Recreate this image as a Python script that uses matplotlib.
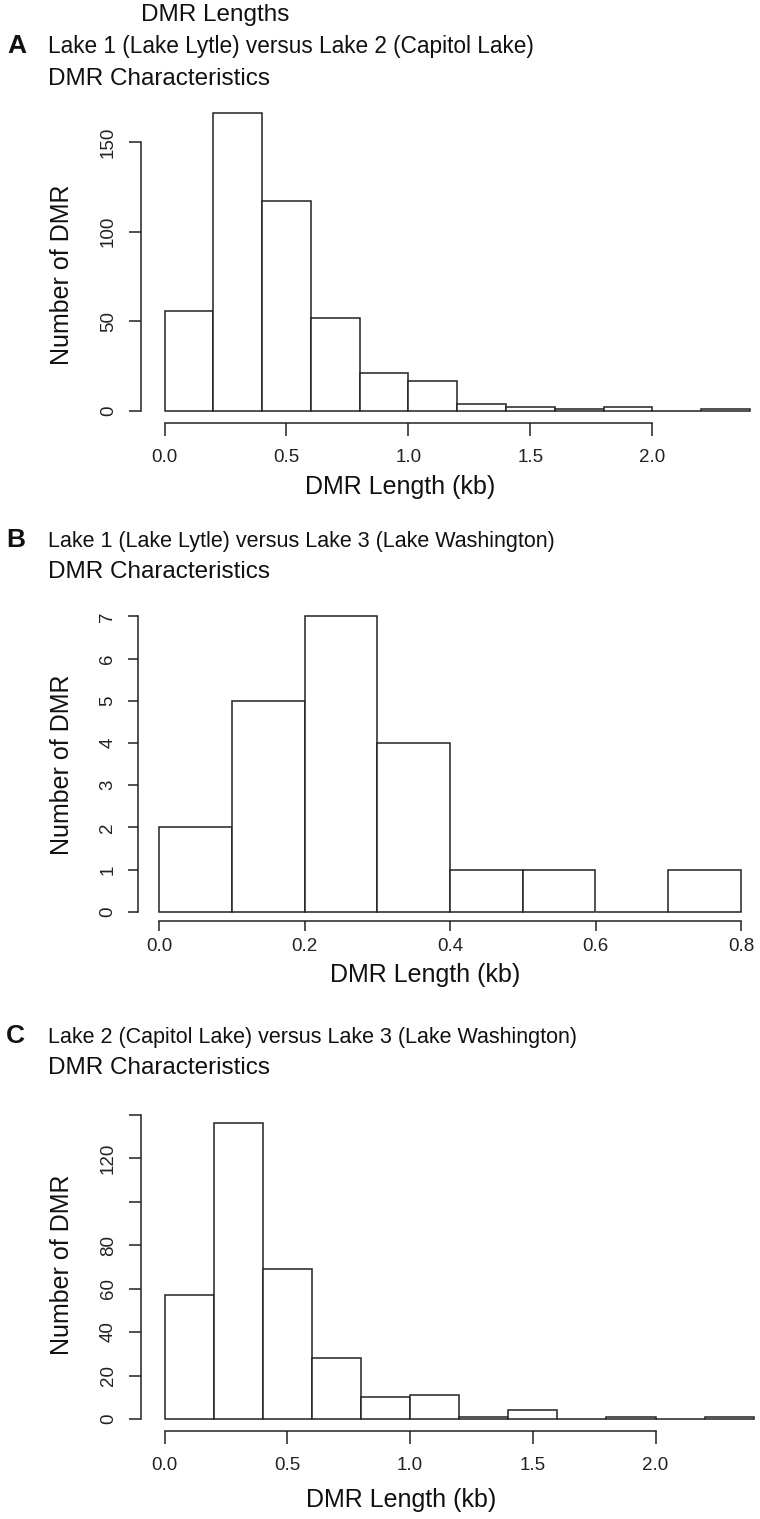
import matplotlib
matplotlib.use("Agg")
import matplotlib.pyplot as plt
import numpy as np

plt.rcParams['font.family'] = ['Liberation Sans', 'DejaVu Sans']

# bin edges (kb) and counts per bin
edges_a = np.round(np.arange(0, 2.41, 0.2), 2)
counts_a = [56, 166, 117, 52, 21, 17, 4, 2, 1, 2, 0, 1]

edges_b = np.round(np.arange(0, 0.81, 0.1), 2)
counts_b = [2, 5, 7, 4, 1, 1, 0, 1]

edges_c = np.round(np.arange(0, 2.41, 0.2), 2)
counts_c = [57, 136, 69, 28, 10, 11, 1, 4, 0, 1, 0, 1]

xticks_a = [0.0, 0.5, 1.0, 1.5, 2.0]
yticks_a = [0, 50, 100, 150]
xticks_b = [0.0, 0.2, 0.4, 0.6, 0.8]
yticks_b = [0, 1, 2, 3, 4, 5, 6, 7]
xticks_c = [0.0, 0.5, 1.0, 1.5, 2.0]
yticks_c = [0, 20, 40, 60, 80, 100, 120, 140]
ylabels_c = ['0', '20', '40', '60', '80', '', '120', '']

W, H = 760, 1519
fig = plt.figure(figsize=(W / 100, H / 100), dpi=100)
INK = '#222222'


def hist_panel(box, x0, xs, y0, ys, edges, counts, xt, yt, ytl=None,
               tlen=9, xpad=10):
    # box: (left spine px, right px, top px, bottom spine px)
    l, r, t, b = box
    ax = fig.add_axes([l / W, 1 - b / H, (r - l) / W, (b - t) / H])
    ax.set_xlim((l - x0) / xs, (r - x0) / xs)
    ax.set_ylim(-(b - y0) / ys, (y0 - t) / ys)
    ax.bar(edges[:-1], counts, width=np.diff(edges), align='edge',
           facecolor='white', edgecolor=INK, linewidth=1.1)
    for s in ['top', 'right']:
        ax.spines[s].set_visible(False)
    ax.spines['left'].set_bounds(yt[0], yt[-1])
    ax.spines['bottom'].set_bounds(xt[0], xt[-1])
    for s in ['left', 'bottom']:
        ax.spines[s].set_linewidth(1.1)
        ax.spines[s].set_color(INK)
    ax.set_xticks(xt)
    ax.set_xticklabels(['%.1f' % v for v in xt])
    ax.set_yticks(yt)
    ax.set_yticklabels(ytl if ytl else [str(v) for v in yt], rotation=90, va='center')
    ax.tick_params(length=tlen, width=1.1, color=INK, labelsize=13.5, labelcolor=INK)
    ax.tick_params(axis='x', pad=xpad)
    ax.tick_params(axis='y', pad=8)
    ax.patch.set_alpha(0)
    return ax


hist_panel((140.7, 760, 95, 422.7), 164.5, 243.9, 411, 1.793,
           edges_a, counts_a, xticks_a, yticks_a)
hist_panel((137.7, 760, 600, 921), 159.3, 727, 911.7, 42.2,
           edges_b, counts_b, xticks_b, yticks_b, tlen=7.5, xpad=5)
hist_panel((140.7, 760, 1095, 1431), 164.5, 245.5, 1419, 2.175,
           edges_c, counts_c, xticks_c, yticks_c, ylabels_c)


def ftext(x, y, s, **kw):
    fig.text(x / W, 1 - y / H, s, color='#111111', va='center', **kw)


ftext(215, 15, 'DMR Lengths', fontsize=17.5, ha='center')
ftext(7, 46, 'A', fontsize=19, fontweight='bold', ha='left')
ftext(48, 46, 'Lake 1 (Lake Lytle) versus Lake 2 (Capitol Lake)', fontsize=16.3, ha='left')
ftext(48, 79, 'DMR Characteristics', fontsize=17.5, ha='left')
ftext(6, 540, 'B', fontsize=19, fontweight='bold', ha='left')
ftext(48, 541, 'Lake 1 (Lake Lytle) versus Lake 3 (Lake Washington)', fontsize=15.5, ha='left')
ftext(48, 572, 'DMR Characteristics', fontsize=17.5, ha='left')
ftext(6, 1036, 'C', fontsize=19, fontweight='bold', ha='left')
ftext(48, 1037, 'Lake 2 (Capitol Lake) versus Lake 3 (Lake Washington)', fontsize=15.5, ha='left')
ftext(48, 1068, 'DMR Characteristics', fontsize=17.5, ha='left')

for yc in [275, 765, 1265]:
    ftext(62, yc, 'Number of DMR', fontsize=18, rotation=90, ha='center')
for xl, yl in [(400, 487), (425, 975), (401, 1500)]:
    ftext(xl, yl, 'DMR Length (kb)', fontsize=18, ha='center')

fig.savefig('out.png', dpi=100, facecolor='white')
